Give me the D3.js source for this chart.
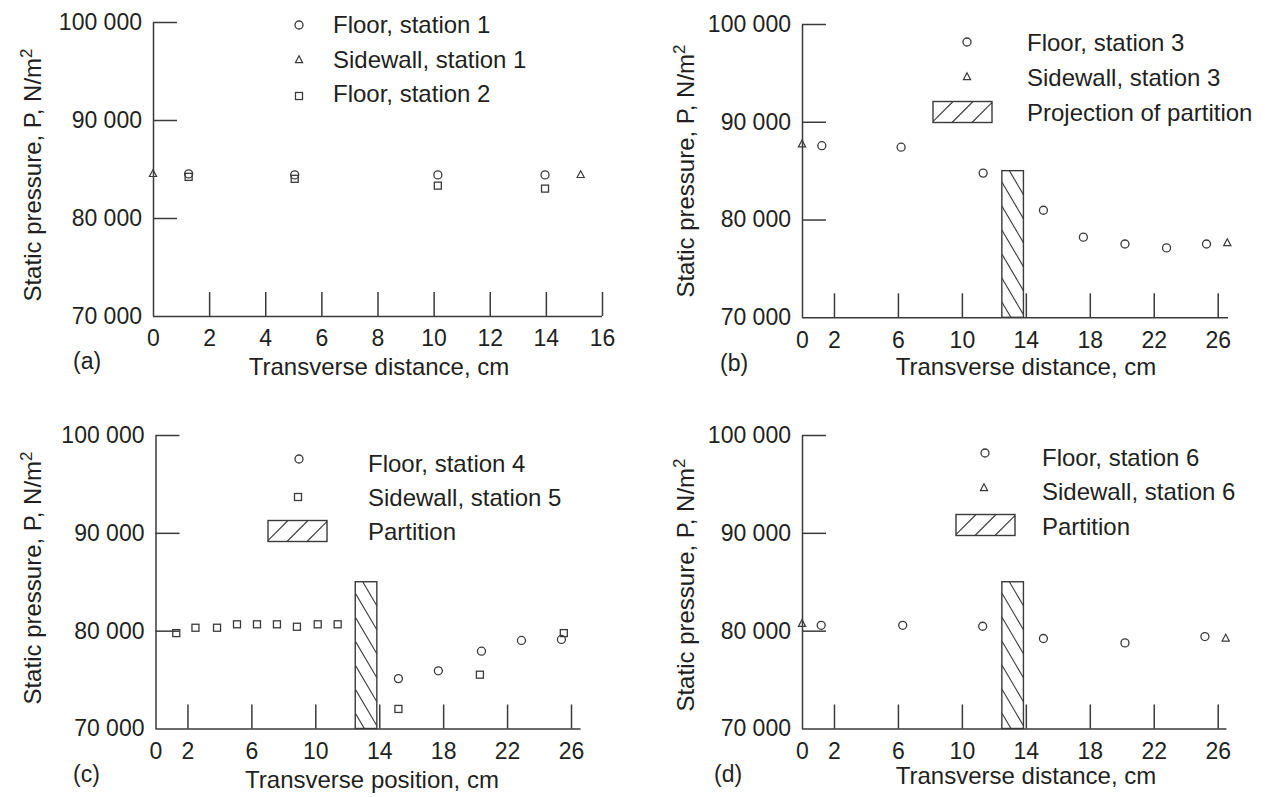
<!DOCTYPE html>
<html><head><meta charset="utf-8">
<script src="https://cdn.jsdelivr.net/npm/d3@7"></script>
<style>
body{margin:0;background:#fff}
text{font-family:"Liberation Sans",Arial,sans-serif;fill:#231f20}
</style>
</head><body>
<svg id="chart" width="1273" height="797"></svg>
<script>
// ---------- shared ticks ----------
const yTicks = [70000, 80000, 90000, 100000];
const yTickLabels = ["70 000", "80 000", "90 000", "100 000"];
const xTicksA = [0, 2, 4, 6, 8, 10, 12, 14, 16];
const xTicksB = [0, 2, 6, 10, 14, 18, 22, 26];
const partitionX = [12.5, 13.85];
const partitionTop = 85000;

// ---------- panel (a) ----------
const aFloor1X = [1.27, 5.05, 10.15, 13.97];
const aFloor1Y = [84500, 84400, 84400, 84400];
const aSide1X = [0, 15.24];
const aSide1Y = [84500, 84400];
const aFloor2X = [1.27, 5.05, 10.15, 13.97];
const aFloor2Y = [84200, 84000, 83300, 83000];

// ---------- panel (b) ----------
const bFloor3X = [1.24, 6.2, 11.33, 15.1, 17.6, 20.2, 22.8, 25.3];
const bFloor3Y = [87550, 87400, 84750, 80950, 78200, 77500, 77100, 77500];
const bSide3X = [0, 26.6];
const bSide3Y = [87700, 77600];

// ---------- panel (c) ----------
const cFloor4X = [15.2, 17.7, 20.4, 22.9, 25.4];
const cFloor4Y = [75100, 75900, 77900, 79000, 79100];
const cSide5X = [1.3, 2.5, 3.85, 5.1, 6.35, 7.6, 8.85, 10.15, 11.4, 15.2, 20.3, 25.55];
const cSide5Y = [79750, 80300, 80300, 80650, 80650, 80650, 80400, 80650, 80650, 72000, 75500, 79750];

// ---------- panel (d) ----------
const dFloor6X = [1.2, 6.3, 11.3, 15.1, 20.2, 25.2];
const dFloor6Y = [80550, 80550, 80450, 79200, 78750, 79400];
const dSide6X = [0, 26.5];
const dSide6Y = [80700, 79200];

const svg = d3.select("#chart");
const ink = "#3a3a3a";
const FS = 23;

function zip(xs, ys) { return xs.map((v, i) => [v, ys[i]]); }

let clipId = 0;

function drawMarker(g, type, cx, cy) {
  if (type === "circle") {
    g.append("circle").attr("cx", cx).attr("cy", cy).attr("r", 4)
      .attr("fill", "none").attr("stroke", ink).attr("stroke-width", 1.3);
  } else if (type === "square") {
    g.append("rect").attr("x", cx - 3.5).attr("y", cy - 3.5).attr("width", 7).attr("height", 7)
      .attr("fill", "none").attr("stroke", ink).attr("stroke-width", 1.3);
  } else {
    g.append("path").attr("d", `M${cx},${cy - 4.2}L${cx + 3.6},${cy + 2.6}L${cx - 3.6},${cy + 2.6}Z`)
      .attr("fill", "none").attr("stroke", ink).attr("stroke-width", 1.2);
  }
}

function hatchBox(g, x0, y0, w, h, dir, spacing, slope) {
  const id = "clip" + (clipId++);
  g.append("clipPath").attr("id", id).append("rect")
    .attr("x", x0).attr("y", y0).attr("width", w).attr("height", h);
  g.append("rect").attr("x", x0).attr("y", y0).attr("width", w).attr("height", h)
    .attr("fill", "#fff");
  const hg = g.append("g").attr("clip-path", `url(#${id})`);
  if (dir === "back") {
    // "\" lines: left edge at yk, right edge at yk + w*slope
    for (let yk = y0 - w * slope; yk < y0 + h; yk += spacing) {
      hg.append("line").attr("x1", x0).attr("y1", yk).attr("x2", x0 + w).attr("y2", yk + w * slope)
        .attr("stroke", ink).attr("stroke-width", 1.1);
    }
  } else {
    // "/" lines
    for (let xk = x0 - h / slope; xk < x0 + w + h; xk += spacing) {
      hg.append("line").attr("x1", xk).attr("y1", y0 + h).attr("x2", xk + h / slope).attr("y2", y0)
        .attr("stroke", ink).attr("stroke-width", 1.1);
    }
  }
  g.append("rect").attr("x", x0).attr("y", y0).attr("width", w).attr("height", h)
    .attr("fill", "none").attr("stroke", ink).attr("stroke-width", 1.4);
}

function panel(cfg) {
  const g = svg.append("g");
  const x = d3.scaleLinear().domain(cfg.xDomain).range(cfg.xRange);
  const y = d3.scaleLinear().domain([70000, 100000]).range(cfg.yRange);
  const x0 = x(0), yb = y(70000);

  // y axis line + inward ticks
  const yAx = g.append("g").attr("transform", `translate(${x0},0)`)
    .call(d3.axisRight(y).tickValues(yTicks.filter(v => v > 70000)).tickSize(24).tickSizeOuter(0).tickFormat(""));
  yAx.selectAll("path,line").attr("stroke", ink).attr("stroke-width", 1.5);

  // y tick labels
  const yLab = g.append("g").attr("transform", `translate(${x0},0)`)
    .call(d3.axisLeft(y).tickValues(yTicks).tickSize(0).tickPadding(11)
      .tickFormat(v => yTickLabels[yTicks.indexOf(v)]));
  yLab.select(".domain").remove();
  yLab.selectAll("text").attr("font-size", FS).attr("font-family", null).attr("fill", "#231f20");

  // x axis line + upward ticks
  const xAx = g.append("g").attr("transform", `translate(0,${yb})`)
    .call(d3.axisTop(x).tickValues(cfg.xTicks.filter(v => v > 0)).tickSize(24).tickSizeOuter(0).tickFormat(""));
  xAx.select(".domain").remove();
  xAx.selectAll("line").attr("stroke", ink).attr("stroke-width", 1.5);
  g.append("line").attr("x1", x0).attr("x2", x(cfg.xEnd)).attr("y1", yb + 0.5).attr("y2", yb + 0.5)
    .attr("stroke", ink).attr("stroke-width", 1.5);

  // x tick labels
  const xLab = g.append("g").attr("transform", `translate(0,${yb})`)
    .call(d3.axisBottom(x).tickValues(cfg.xTicks).tickSize(0).tickPadding(14).tickFormat(d3.format("d")));
  xLab.select(".domain").remove();
  xLab.selectAll("text").attr("font-size", FS).attr("font-family", null).attr("fill", "#231f20");

  // partition
  if (cfg.partition) {
    const px0 = x(partitionX[0]), px1 = x(partitionX[1]);
    const pt = y(partitionTop);
    hatchBox(g, px0, pt, px1 - px0, yb - pt, "back", 24, 1.7);
  }

  // data
  cfg.series.forEach(s => {
    zip(s.xs, s.ys).forEach(([vx, vy]) => drawMarker(g, s.type, x(vx), y(vy)));
  });

  // legend
  cfg.legend.forEach(l => {
    if (l.type === "hatch") {
      hatchBox(g, l.mx, l.my - 10.5, 59, 21, "fwd", 20, 1.0);
    } else {
      drawMarker(g, l.type, l.mx, l.my);
    }
    g.append("text").attr("x", l.tx).attr("y", l.ty).attr("dominant-baseline", "central")
      .attr("font-size", 24).text(l.label);
  });

  // y title
  const yt = g.append("text")
    .attr("transform", `translate(${cfg.yTitle[0]},${cfg.yTitle[1]}) rotate(-90)`)
    .attr("text-anchor", "middle").attr("font-size", 24);
  yt.append("tspan").text("Static pressure, P, N/m");
  yt.append("tspan").attr("dy", -9).attr("font-size", 17).text("2");

  // x title
  g.append("text").attr("x", cfg.xTitle[0]).attr("y", cfg.xTitle[1]).attr("text-anchor", "middle")
    .attr("font-size", 24).text(cfg.xTitleText);

  // panel letter
  g.append("text").attr("x", cfg.letter[0]).attr("y", cfg.letter[1]).attr("font-size", 23).text(cfg.letterText);
}

panel({
  xDomain: [0, 16], xRange: [153, 602], yRange: [316, 22], xTicks: xTicksA, xEnd: 16,
  partition: false,
  series: [
    { type: "square", xs: aFloor2X, ys: aFloor2Y },
    { type: "circle", xs: aFloor1X, ys: aFloor1Y },
    { type: "triangle", xs: aSide1X, ys: aSide1Y }
  ],
  legend: [
    { type: "circle", mx: 299, my: 25, tx: 333, ty: 24, label: "Floor, station 1" },
    { type: "triangle", mx: 299, my: 60, tx: 333, ty: 59, label: "Sidewall, station 1" },
    { type: "square", mx: 299, my: 96, tx: 333, ty: 93, label: "Floor, station 2" }
  ],
  yTitle: [41, 175], xTitle: [379, 375], xTitleText: "Transverse distance, cm",
  letter: [73, 369], letterText: "(a)"
});

panel({
  xDomain: [0, 26], xRange: [802, 1217.7], yRange: [317.3, 24], xTicks: xTicksB, xEnd: 26.65,
  partition: true,
  series: [
    { type: "circle", xs: bFloor3X, ys: bFloor3Y },
    { type: "triangle", xs: bSide3X, ys: bSide3Y }
  ],
  legend: [
    { type: "circle", mx: 967, my: 42, tx: 1027, ty: 42, label: "Floor, station 3" },
    { type: "triangle", mx: 967, my: 77, tx: 1027, ty: 77, label: "Sidewall, station 3" },
    { type: "hatch", mx: 933, my: 112, tx: 1027, ty: 112, label: "Projection of partition" }
  ],
  yTitle: [694, 171], xTitle: [1026, 375], xTitleText: "Transverse distance, cm",
  letter: [720, 371], letterText: "(b)"
});

panel({
  xDomain: [0, 26], xRange: [155.5, 571], yRange: [728.5, 435], xTicks: xTicksB, xEnd: 26.6,
  partition: true,
  series: [
    { type: "circle", xs: cFloor4X, ys: cFloor4Y },
    { type: "square", xs: cSide5X, ys: cSide5Y }
  ],
  legend: [
    { type: "circle", mx: 299, my: 459, tx: 368, ty: 463, label: "Floor, station 4" },
    { type: "square", mx: 298, my: 497, tx: 368, ty: 497, label: "Sidewall, station 5" },
    { type: "hatch", mx: 268, my: 531, tx: 368, ty: 531, label: "Partition" }
  ],
  yTitle: [41, 578], xTitle: [372, 788], xTitleText: "Transverse position, cm",
  letter: [73, 782], letterText: "(c)"
});

panel({
  xDomain: [0, 26], xRange: [802, 1217.7], yRange: [728.5, 435], xTicks: xTicksB, xEnd: 26.55,
  partition: true,
  series: [
    { type: "circle", xs: dFloor6X, ys: dFloor6Y },
    { type: "triangle", xs: dSide6X, ys: dSide6Y }
  ],
  legend: [
    { type: "circle", mx: 985, my: 453, tx: 1042, ty: 457, label: "Floor, station 6" },
    { type: "triangle", mx: 984, my: 488, tx: 1042, ty: 491, label: "Sidewall, station 6" },
    { type: "hatch", mx: 956, my: 525, tx: 1042, ty: 526, label: "Partition" }
  ],
  yTitle: [694, 585], xTitle: [1026, 784], xTitleText: "Transverse distance, cm",
  letter: [714, 782], letterText: "(d)"
});
</script>
</body></html>
